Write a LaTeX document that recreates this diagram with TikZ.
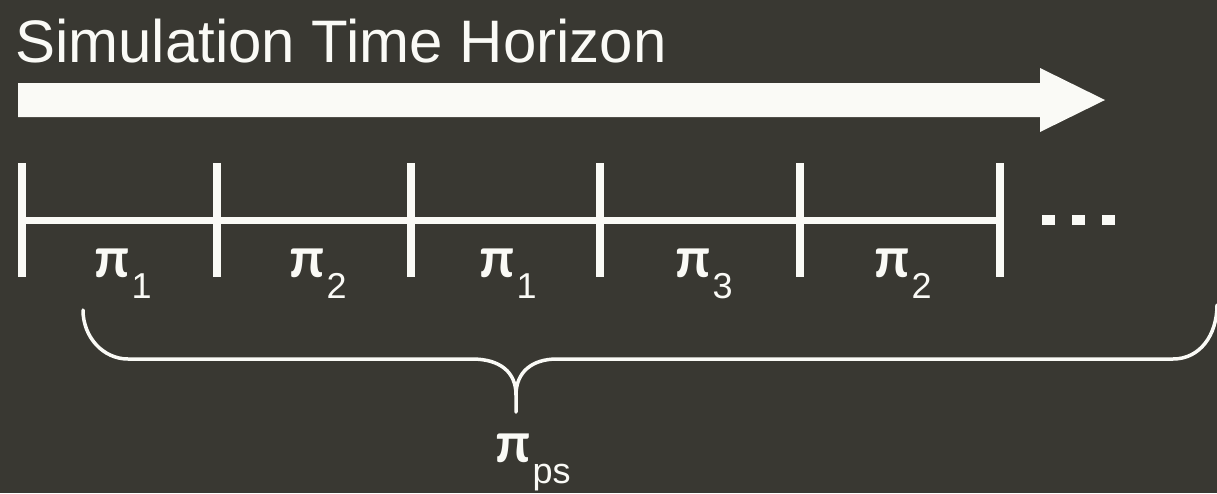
\documentclass[tikz,border=0pt]{standalone}
\usepackage{fontspec}
\setmainfont{Liberation Sans}
\newfontfamily\pifont{Lato}
\definecolor{slate}{RGB}{57,56,50}
\definecolor{chalk}{RGB}{250,250,246}
\newcommand{\pisub}[1]{{\pifont\bfseries\fontsize{56}{56}\selectfont π}\kern2pt\raisebox{-21pt}{\fontsize{36}{36}\selectfont #1}}
\tikzset{
  tick/.style={draw=chalk, line width=8pt},
  axisline/.style={draw=chalk, line width=7pt},
  bracepath/.style={draw=chalk, line width=3.5pt, line cap=round},
  seglabel/.style={text=chalk, inner sep=0pt, anchor=base},
  dotmark/.style={fill=chalk},
}
\begin{document}
\begin{tikzpicture}[x=1pt,y=-1pt]
  % backdrop
  \fill[slate] (0,0) rectangle (1217,493);
  \useasboundingbox (0,0) rectangle (1217,493);

  % heading
  \node[text=chalk, inner sep=0pt, anchor=base west, font=\fontsize{60}{61}\selectfont]
    (title) at (15,62) {Simulation Time Horizon};

  % big block arrow
  \fill[chalk] (18,83) -- (1040,83) -- (1040,68) -- (1105,100) -- (1040,132)
    -- (1040,117) -- (18,117) -- cycle;

  % time axis with segment boundaries
  \foreach \n/\x in {0/22,1/217,2/411,3/600,4/800,5/1000}{
    \coordinate (t\n) at (\x,220);
    \coordinate (t\n top) at (\x,163);
    \coordinate (t\n bot) at (\x,277);
  }
  \draw[axisline] (t0) -- (t5);
  \foreach \n in {0,...,5}{ \draw[tick] (t\n top) -- (t\n bot); }

  % continuation dots
  \foreach \n/\x in {1/1048,2/1078,3/1108}{
    \coordinate (d\n) at (\x,220);
    \fill[dotmark] ([xshift=-6.5pt,yshift=-5pt]d\n) rectangle ([xshift=6.5pt,yshift=5pt]d\n);
  }

  % policy labels per segment
  \node[seglabel] (p1) at (123,277) {\pisub{1}};
  \node[seglabel] (p2) at (318,277) {\pisub{2}};
  \node[seglabel] (p3) at (508,277) {\pisub{1}};
  \node[seglabel] (p4) at (704,277) {\pisub{3}};
  \node[seglabel] (p5) at (903,277) {\pisub{2}};

  % brace under the schedule
  \coordinate (bl) at (83,310);
  \coordinate (br) at (1217,305);
  \coordinate (tip) at (516,412);
  \draw[bracepath] (bl) .. controls (83,337) and (103,359) .. (128,359)
    -- (472,359) .. controls (500,359) and (516,372) .. (516,395) -- (tip);
  \draw[bracepath] (516,395) .. controls (516,372) and (532,359) .. (557,359)
    -- (1173,359) .. controls (1200,359) and (1217,335) .. (br);

  % combined policy label
  \node[seglabel] (pps) at (533,462) {\pisub{ps}};
\end{tikzpicture}
\end{document}
